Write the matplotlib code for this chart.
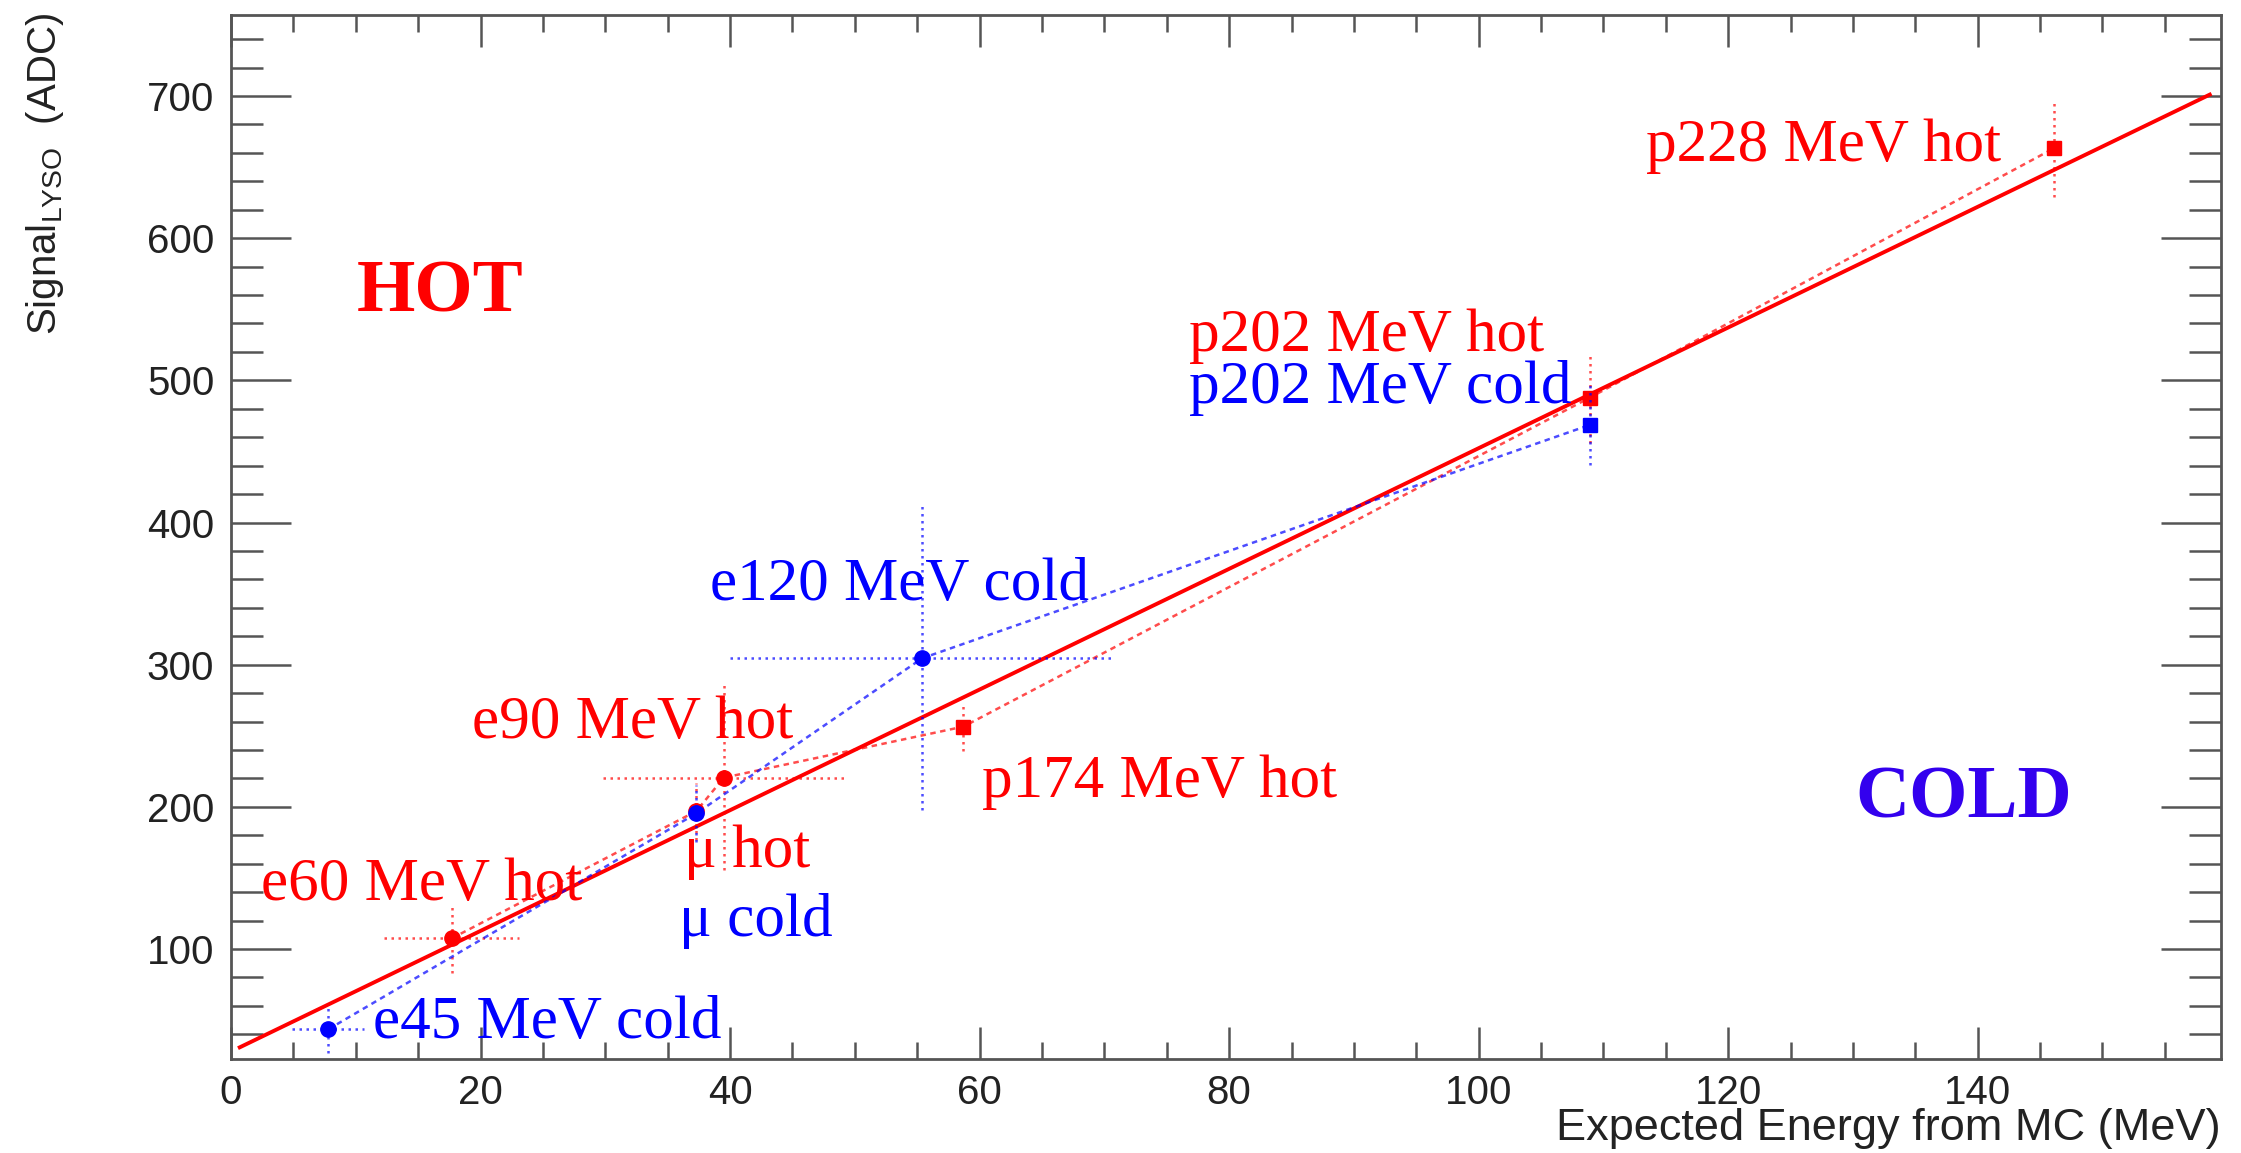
import matplotlib
matplotlib.use("Agg")
import matplotlib.pyplot as plt
import numpy as np

# ---- data -------------------------------------------------------------
# hot crystal runs
hot_names = ["e60", "mu_hot", "e90", "p174", "p202", "p228"]
hot_x = [17.7, 37.3, 39.5, 58.7, 108.9, 146.1]
hot_y = [107.5, 197.0, 220.5, 256.4, 487.8, 663.2]
hot_xerr = [5.4, 0.0, 9.7, 0.0, 0.0, 0.0]
hot_yerr = [24.5, 20.0, 65.0, 17.0, 32.0, 34.0]

# cold crystal runs
cold_names = ["e45", "mu_cold", "e120", "p202"]
cold_x = [7.8, 37.3, 55.4, 108.9]
cold_y = [43.5, 195.4, 304.5, 468.6]
cold_xerr = [2.9, 0.0, 15.4, 0.0]
cold_yerr = [17.0, 20.0, 107.0, 28.0]

# linear fit drawn over its fit range
fit_x = [0.7, 158.6]
fit_y = [30.8, 701.0]

# annotation texts
hot_labels = ["e60 MeV hot", "\u03bc hot", "e90 MeV hot", "p174 MeV hot",
              "p202 MeV hot", "p228 MeV hot"]
cold_labels = ["e45 MeV cold", "\u03bc cold", "e120 MeV cold", "p202 MeV cold"]

# ---- layout / style ---------------------------------------------------
hot_label_pos = [(2.4, 134.5), (36.3, 158.0), (19.3, 248.3), (60.2, 207.1),
                 (76.8, 520.5), (113.4, 654.0)]
cold_label_pos = [(11.4, 37.2), (35.9, 109.0), (38.4, 345.5), (76.8, 484.0)]

RED = "#ff0000"
BLUE = "#0000ff"
FRAME = "#555555"
LABEL_SIZE = 44

W, H = 2241, 1153
fig = plt.figure(figsize=(W / 100, H / 100), dpi=100)
ax = fig.add_axes([231 / W, 1 - 1059 / H, (2221 - 231) / W, (1059 - 15) / H])

ax.set_xlim(0, 159.5)
ax.set_ylim(22.6, 757)

# ROOT-like frame and ticks
for sp in ax.spines.values():
    sp.set_color(FRAME)
    sp.set_linewidth(2.0)
ax.set_xticks(np.arange(0, 160, 20))
ax.set_xticks(np.arange(0, 160, 5), minor=True)
ax.set_yticks(np.arange(100, 800, 100))
ax.set_yticks(np.arange(40, 760, 20), minor=True)
ax.tick_params(which="both", direction="in", top=True, right=True,
               color=FRAME, width=1.8, labelcolor="#222222",
               labelsize=29, labelfontfamily="Liberation Sans")
ax.tick_params(axis="x", which="major", length=23, pad=11)
ax.tick_params(axis="x", which="minor", length=12)
ax.tick_params(axis="y", which="major", length=43, pad=12)
ax.tick_params(axis="y", which="minor", length=23)

# fit line
ax.plot(fit_x, fit_y, color=RED, lw=2.8, zorder=3)


def draw_series(xs, ys, xe, ye, names, color, z):
    ax.plot(xs, ys, color=color, lw=1.8, ls=(0, (2.2, 1.8)), alpha=0.7, zorder=z)
    eb = ax.errorbar(xs, ys, xerr=xe, yerr=ye, fmt="none", ecolor=color,
                     elinewidth=1.8, alpha=0.7, zorder=z)
    for col in eb.lines[2]:
        col.set_linestyle((0, (1.0, 1.8)))
    for x, y, n in zip(xs, ys, names):
        m = "s" if n.startswith("p") else "o"
        ax.plot([x], [y], marker=m, ms=9.5 if m == "s" else 11, color=color,
                mec=color, ls="none", zorder=z + 1)


draw_series(hot_x, hot_y, hot_xerr, hot_yerr, hot_names, RED, 4)
draw_series(cold_x, cold_y, cold_xerr, cold_yerr, cold_names, BLUE, 6)

for t, (x, y) in zip(hot_labels, hot_label_pos):
    ax.text(x, y, t, color=RED, fontsize=LABEL_SIZE, family="Liberation Serif",
            va="baseline", ha="left", zorder=8)
for t, (x, y) in zip(cold_labels, cold_label_pos):
    ax.text(x, y, t, color=BLUE, fontsize=LABEL_SIZE, family="Liberation Serif",
            va="baseline", ha="left", zorder=8)

ax.text(10.1, 548.3, "HOT", color=RED, fontsize=54, fontweight="bold",
        family="Liberation Serif", va="baseline", ha="left", zorder=8)
ax.text(130.2, 192.8, "COLD", color="#3300ee", fontsize=54, fontweight="bold",
        family="Liberation Serif", va="baseline", ha="left", zorder=8)

# axis titles
plt.rcParams["mathtext.fontset"] = "custom"
plt.rcParams["mathtext.rm"] = "Liberation Sans"
fig.text(45 / W, 1 - 13 / H, r"Signal$_{\mathrm{LYSO}}$  (ADC)", rotation=90,
         ha="center", va="top", fontsize=29, family="Liberation Sans",
         color="#222222")
fig.text(2221 / W, 1 - 1140 / H, "Expected Energy from MC (MeV)",
         ha="right", va="baseline", fontsize=32.5, family="Liberation Sans",
         color="#222222")

fig.savefig("out.png", dpi=100, facecolor="white")
